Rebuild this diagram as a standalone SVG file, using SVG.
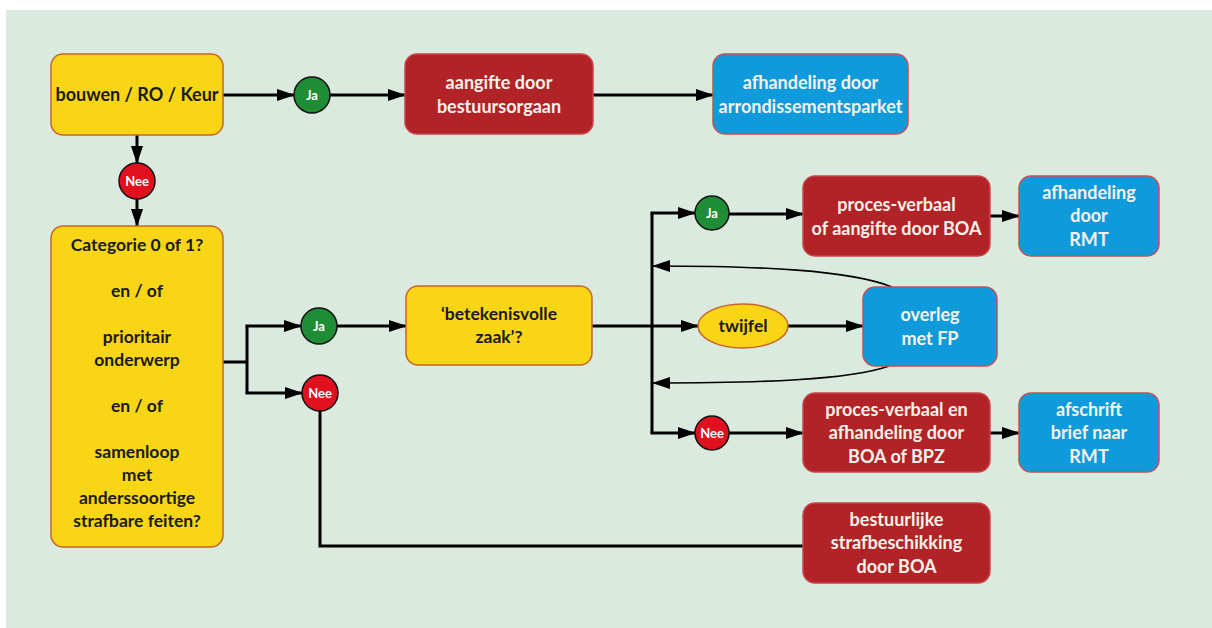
<svg xmlns="http://www.w3.org/2000/svg" width="1212" height="628" viewBox="0 0 1212 628">
  <defs>
    <marker id="arrow" markerUnits="userSpaceOnUse" markerWidth="18" markerHeight="12" refX="17" refY="6" orient="auto">
      <path d="M0,0 L18,6 L0,12 z" fill="#000"/>
    </marker>
    <style>
      .yellow { fill: #f8d616; stroke: #c8642a; stroke-width: 1.5; }
      .red { fill: #b12326; stroke: #c9454a; stroke-width: 1.5; }
      .blue { fill: #0f9bdb; stroke: #c4505a; stroke-width: 1.5; }
      .yes { fill: #1f8c36; stroke: #111; stroke-width: 1.5; }
      .no { fill: #e0101e; stroke: #111; stroke-width: 1.5; }
      text { font-family: Lato, "Open Sans", "Liberation Sans", sans-serif; font-weight: 700; text-anchor: middle; }
      .dark { fill: #1a1a1a; font-size: 17.5px; }
      .light { fill: #f7f1ea; font-size: 18px; }
      .tag { fill: #fff; font-size: 13px; }
      .link { fill: none; stroke: #000; stroke-width: 3; }
      .thin { fill: none; stroke: #000; stroke-width: 1.6; }
    </style>
  </defs>

  <!-- page background -->
  <rect x="0" y="0" width="1212" height="628" fill="#ffffff"/>
  <rect x="6" y="10" width="1206" height="618" fill="#dbeadf"/>

  <!-- connectors -->
  <g id="connectors">
    <path class="link" d="M223,95 H294" marker-end="url(#arrow)"/>
    <path class="link" d="M330,95 H405" marker-end="url(#arrow)"/>
    <path class="link" d="M593,95 H713" marker-end="url(#arrow)"/>
    <path class="link" d="M137,135 V163" marker-end="url(#arrow)"/>
    <path class="link" d="M137,199 V226" marker-end="url(#arrow)"/>
    <path class="link" d="M223,362 H247"/>
    <path class="link" d="M247,326 V393"/>
    <path class="link" d="M245.5,326 H301" marker-end="url(#arrow)"/>
    <path class="link" d="M245.5,393 H302" marker-end="url(#arrow)"/>
    <path class="link" d="M337,326 H406" marker-end="url(#arrow)"/>
    <path class="link" d="M320,411 V546 H803"/>
    <path class="link" d="M592,326 H698" marker-end="url(#arrow)"/>
    <path class="link" d="M652,213 V433"/>
    <path class="link" d="M650.5,213 H695" marker-end="url(#arrow)"/>
    <path class="link" d="M729,214 H803" marker-end="url(#arrow)"/>
    <path class="link" d="M990,216 H1019" marker-end="url(#arrow)"/>
    <path class="link" d="M788,326 H863" marker-end="url(#arrow)"/>
    <path class="link" d="M650.5,433 H695" marker-end="url(#arrow)"/>
    <path class="link" d="M729,433 H803" marker-end="url(#arrow)"/>
    <path class="link" d="M990,433 H1019" marker-end="url(#arrow)"/>
    <path class="thin" d="M892,287 C850,270 760,266 653,266" marker-end="url(#arrow)"/>
    <path class="thin" d="M889,366 C850,380 760,383 653,383" marker-end="url(#arrow)"/>
  </g>

  <!-- nodes -->
  <g id="n-bouwen">
    <rect class="yellow" x="51" y="54" width="172" height="81" rx="12"/>
    <text class="dark" x="137" y="101" style="font-size:18px">bouwen / RO / Keur</text>
  </g>

  <g id="n-ja-top">
    <circle class="yes" cx="312" cy="95" r="18"/>
    <text class="tag" x="312" y="99.5">Ja</text>
  </g>

  <g id="n-nee-top">
    <circle class="no" cx="137" cy="181" r="18"/>
    <text class="tag" x="137" y="185.5">Nee</text>
  </g>

  <g id="n-aangifte">
    <rect class="red" x="405" y="54" width="188" height="80" rx="12"/>
    <text class="light" x="499" y="89">aangifte door</text>
    <text class="light" x="499" y="113">bestuursorgaan</text>
  </g>

  <g id="n-arrondissement">
    <rect class="blue" x="713" y="54" width="195" height="80" rx="12"/>
    <text class="light" x="810.5" y="89">afhandeling door</text>
    <text class="light" x="810.5" y="113">arrondissementsparket</text>
  </g>

  <g id="n-categorie">
    <rect class="yellow" x="51" y="226" width="172" height="321" rx="12"/>
    <text class="dark" x="137" y="251">Categorie 0 of 1?</text>
    <text class="dark" x="137" y="297">en / of</text>
    <text class="dark" x="137" y="343">prioritair</text>
    <text class="dark" x="137" y="366">onderwerp</text>
    <text class="dark" x="137" y="412">en / of</text>
    <text class="dark" x="137" y="458">samenloop</text>
    <text class="dark" x="137" y="481">met</text>
    <text class="dark" x="137" y="504">anderssoortige</text>
    <text class="dark" x="137" y="527">strafbare feiten?</text>
  </g>

  <g id="n-ja-mid">
    <circle class="yes" cx="319" cy="326" r="18"/>
    <text class="tag" x="319" y="330.5">Ja</text>
  </g>

  <g id="n-nee-mid">
    <circle class="no" cx="320" cy="393" r="18"/>
    <text class="tag" x="320" y="397.5">Nee</text>
  </g>

  <g id="n-betekenisvol">
    <rect class="yellow" x="406" y="286" width="186" height="79" rx="12"/>
    <text class="dark" x="499" y="320">‘betekenisvolle</text>
    <text class="dark" x="499" y="343">zaak’?</text>
  </g>

  <g id="n-twijfel">
    <ellipse class="yellow" cx="743" cy="326" rx="45" ry="22"/>
    <text class="dark" x="743" y="332">twijfel</text>
  </g>

  <g id="n-overleg">
    <rect class="blue" x="863" y="287" width="134" height="79" rx="12"/>
    <text class="light" x="930" y="321">overleg</text>
    <text class="light" x="930" y="345">met FP</text>
  </g>

  <g id="n-ja-right">
    <circle class="yes" cx="712" cy="213" r="17"/>
    <text class="tag" x="712" y="217.5">Ja</text>
  </g>

  <g id="n-pv-aangifte">
    <rect class="red" x="803" y="176" width="187" height="80" rx="12"/>
    <text class="light" x="896.5" y="211">proces-verbaal</text>
    <text class="light" x="896.5" y="235">of aangifte door BOA</text>
  </g>

  <g id="n-rmt-1">
    <rect class="blue" x="1019" y="176" width="140" height="80" rx="12"/>
    <text class="light" x="1089" y="199">afhandeling</text>
    <text class="light" x="1089" y="222">door</text>
    <text class="light" x="1089" y="246">RMT</text>
  </g>

  <g id="n-nee-right">
    <circle class="no" cx="712" cy="433" r="17"/>
    <text class="tag" x="712" y="437.5">Nee</text>
  </g>

  <g id="n-pv-boa">
    <rect class="red" x="803" y="393" width="187" height="79" rx="12"/>
    <text class="light" x="896.5" y="416">proces-verbaal en</text>
    <text class="light" x="896.5" y="439">afhandeling door</text>
    <text class="light" x="896.5" y="463">BOA of BPZ</text>
  </g>

  <g id="n-rmt-2">
    <rect class="blue" x="1019" y="393" width="140" height="79" rx="12"/>
    <text class="light" x="1089" y="416">afschrift</text>
    <text class="light" x="1089" y="439">brief naar</text>
    <text class="light" x="1089" y="463">RMT</text>
  </g>

  <g id="n-strafbeschikking">
    <rect class="red" x="803" y="503" width="187" height="80" rx="12"/>
    <text class="light" x="896.5" y="526">bestuurlijke</text>
    <text class="light" x="896.5" y="549">strafbeschikking</text>
    <text class="light" x="896.5" y="573">door BOA</text>
  </g>
</svg>
